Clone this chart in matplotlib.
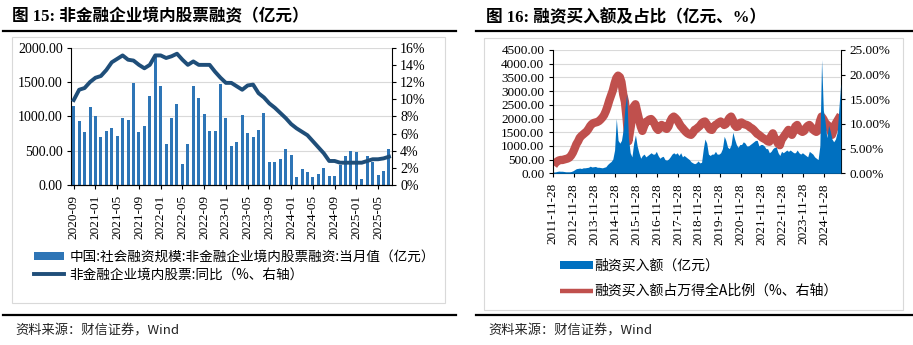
import numpy as np
import pandas as pd
import matplotlib
matplotlib.use('Agg')
import matplotlib.pyplot as plt
import matplotlib.dates as mdates
from matplotlib.patches import Rectangle
from matplotlib.lines import Line2D

plt.rcParams['font.family'] = ['Liberation Serif', 'Noto Sans CJK SC']
plt.rcParams['axes.unicode_minus'] = False
CJK = ['Noto Sans CJK SC', 'DejaVu Sans']
MIX = ['Liberation Serif', 'Noto Sans CJK SC']

# ---- figure 15: 非金融企业境内股票融资, monthly 2020-09 .. 2025-07
months = list(pd.period_range('2020-09', '2025-07', freq='M').strftime('%Y-%m'))
equity_fin = [1155, 932, 777, 1136, 1010, 699, 786, 825, 718, 971,
              951, 1480, 772, 864, 1301, 1870, 1447, 592, 980, 1175,
              301, 592, 1447, 1272, 1029, 786, 786, 1466, 980, 573,
              631, 1015, 762, 704, 796, 1053, 340, 340, 374, 519,
              432, 121, 228, 194, 121, 160, 243, 131, 131, 291,
              427, 500, 476, 83, 427, 340, 146, 208, 520]
equity_yoy = [9.9, 11.1, 11.3, 12.0, 12.5, 12.7, 13.4, 14.3, 14.7, 15.1,
              14.6, 14.5, 14.0, 13.6, 14.0, 15.1, 15.1, 14.8, 15.0, 15.3,
              14.6, 14.0, 14.4, 14.0, 14.0, 14.0, 13.2, 12.5, 11.9, 11.9,
              11.5, 11.1, 11.6, 11.7, 10.7, 10.2, 9.5, 9.0, 8.4, 7.8,
              7.1, 6.6, 6.2, 5.8, 5.1, 4.4, 3.7, 2.8, 2.8, 2.6,
              2.6, 2.6, 2.6, 2.6, 2.8, 3.0, 3.0, 3.1, 3.3]

# ---- figure 16: 融资买入额 and share of A-share turnover, sampled mid-month 2011-12 .. 2025-09
margin_dates = pd.date_range('2011-12-01', '2025-09-01', freq='MS') + pd.Timedelta(days=14)
margin_buy = [50,
              50, 70, 80, 75, 75, 65, 55, 55, 55, 65, 90, 130,
              170, 180, 190, 175, 200, 200, 210, 220, 260, 230, 240, 250,
              220, 220, 210, 200, 220, 240, 320, 380, 430, 520, 850, 2000,
              1200, 1100, 1200, 1600, 2400, 2900, 1300, 750, 600, 1100, 1400, 1000,
              750, 550, 650, 700, 600, 650, 700, 750, 700, 700, 800, 650,
              550, 600, 620, 500, 480, 520, 600, 700, 750, 700, 750, 650,
              750, 600, 650, 600, 550, 500, 420, 380, 350, 380, 450, 380,
              400, 900, 1250, 1100, 700, 650, 700, 700, 800, 700, 700, 750,
              900, 1350, 1200, 950, 900, 1050, 1500, 1250, 1050, 950, 1050, 1050,
              1150, 1100, 1000, 1000, 1050, 1100, 1150, 1200, 1200, 1000, 1050, 1050,
              1000, 900, 900, 750, 800, 900, 950, 950, 750, 650, 800, 750,
              800, 850, 800, 850, 800, 750, 750, 850, 750, 700, 750, 700,
              650, 600, 800, 750, 700, 600, 550, 500, 1000, 4150, 2300, 1900,
              1300, 1750, 1550, 1250, 1150, 1250, 1500, 2400, 3280]
margin_ratio = [1.6,
                2.1, 2.4, 2.6, 2.7, 2.7, 2.8, 2.9, 3.0, 3.2, 3.6, 4.2, 5.0,
                5.9, 6.5, 7.2, 7.6, 7.9, 8.2, 8.5, 9.0, 9.6, 10.0, 10.2, 10.3,
                10.4, 10.6, 10.9, 11.3, 11.8, 12.6, 13.6, 14.8, 15.8, 16.8, 18.2, 19.3,
                19.8, 19.5, 18.5, 16.0, 14.5, 11.0, 6.5, 8.8, 11.0, 13.5, 14.0, 12.5,
                11.0, 9.5, 8.6, 9.6, 10.4, 10.6, 10.9, 11.0, 10.6, 10.0, 9.2, 8.8,
                9.2, 9.8, 9.6, 9.2, 9.0, 9.5, 10.5, 11.2, 11.5, 11.2, 10.8, 10.2,
                9.6, 9.2, 8.8, 8.4, 8.1, 7.9, 7.8, 8.2, 8.8, 9.0, 9.3, 9.6,
                10.1, 10.4, 10.5, 10.0, 9.4, 8.9, 8.8, 9.4, 9.8, 10.0, 10.3, 10.5,
                10.2, 9.8, 10.0, 10.6, 11.2, 11.5, 10.8, 9.8, 9.4, 9.5, 10.2, 10.3,
                10.0, 9.9, 9.8, 9.6, 9.3, 9.1, 8.8, 8.4, 8.0, 7.8, 7.5, 7.2,
                7.0, 6.8, 6.5, 6.4, 7.5, 8.1, 7.2, 6.7, 6.0, 5.7, 6.8, 7.3,
                7.8, 8.3, 8.8, 8.2, 7.8, 8.5, 9.5, 9.8, 9.0, 8.6, 8.4, 8.6,
                9.2, 9.6, 9.8, 9.4, 8.9, 8.6, 8.4, 8.7, 10.5, 11.5, 11.0, 10.3,
                9.9, 9.6, 8.8, 7.8, 8.8, 10.0, 10.6, 11.2, 11.8]

W, H = 913, 345
fig = plt.figure(figsize=(W / 100, H / 100), dpi=100)


def fx(px):
    return px / W


def fy(px):
    return 1 - px / H


def style_spines(ax, left=True, right=False):
    for s in ax.spines.values():
        s.set_color('black')
        s.set_linewidth(0.8)
    ax.spines['top'].set_visible(False)
    ax.spines['left'].set_visible(left)
    ax.spines['right'].set_visible(right)


# ================= left chart =================
ax1 = fig.add_axes([fx(71), fy(185), fx(391.7 - 71), (185 - 47.7) / H])
x = np.arange(len(months))
bars = ax1.bar(x, equity_fin, width=0.55, color='#2E75B6', zorder=2)
ax1.set_xlim(-0.5, len(months) - 0.5)
ax1.set_ylim(0, 2000)
ax1.set_yticks(np.arange(0, 2001, 500))
ax1.yaxis.set_major_formatter(lambda v, p: '%.2f' % v)
ax1.yaxis.grid(True, color='#D9D9D9', lw=0.8)
ax1.set_axisbelow(True)
ax1.set_xticks(x[::4])
ax1.set_xticklabels(months[::4], rotation=90)
ax1.tick_params(axis='both', direction='out', length=3, width=0.8, labelsize=10, pad=3)
ax1.tick_params(axis='x', labelsize=9.5, pad=4)
style_spines(ax1)

ax1b = ax1.twinx()
line, = ax1b.plot(x, equity_yoy, color='#1F4E79', lw=2.8, solid_joinstyle='round', zorder=3)
ax1b.set_ylim(0, 16)
ax1b.set_yticks(np.arange(0, 17, 2))
ax1b.yaxis.set_major_formatter(lambda v, p: '%d%%' % v)
ax1b.tick_params(axis='y', direction='out', length=3, width=0.8, labelsize=10, pad=3)
style_spines(ax1b, left=False, right=True)

fig.legend([bars, line],
           ['中国:社会融资规模:非金融企业境内股票融资:当月值（亿元）',
            '非金融企业境内股票:同比（%、右轴）'],
           loc='upper left', bbox_to_anchor=(fx(34), fy(250)),
           frameon=False, prop={'family': CJK, 'size': 9.8},
           handlelength=2.2, handleheight=0.45, handletextpad=0.4,
           labelspacing=0.25, borderpad=0, borderaxespad=0)

# ================= right chart =================
ax2 = fig.add_axes([fx(552.7), fy(173.3), fx(841 - 552.7), (173.3 - 50) / H])
scale = 4500 / 25
red, = ax2.plot(margin_dates, np.array(margin_ratio) * scale, color='#C0504D',
                lw=6, solid_joinstyle='round', solid_capstyle='butt', zorder=2)
blue = ax2.fill_between(margin_dates, margin_buy, color='#0070C0', lw=0, zorder=3)
ax2.set_xlim(pd.Timestamp('2011-11-28'), pd.Timestamp('2025-09-20'))
ax2.set_ylim(0, 4500)
ax2.set_yticks(np.arange(0, 4501, 500))
ax2.yaxis.set_major_formatter(lambda v, p: '%.2f' % v)
ax2.yaxis.grid(True, color='#D9D9D9', lw=0.8)
ax2.set_axisbelow(True)
xt = pd.date_range('2011-11-28', periods=14, freq=pd.DateOffset(years=1))
ax2.set_xticks(xt)
ax2.xaxis.set_major_formatter(mdates.DateFormatter('%Y-%m-%d'))
ax2.tick_params(axis='x', rotation=90, labelsize=9.5, pad=4)
ax2.tick_params(axis='both', direction='out', length=3, width=0.8)
ax2.tick_params(axis='y', labelsize=9.5, pad=3)
style_spines(ax2)

sec = ax2.secondary_yaxis('right', functions=(lambda v: v / scale, lambda p: p * scale))
sec.set_yticks(np.arange(0, 26, 5))
sec.yaxis.set_major_formatter(lambda v, p: '%.2f%%' % v)
sec.tick_params(direction='out', length=3, width=0.8, labelsize=9.5, pad=3)
sec.spines['right'].set_color('black')
sec.spines['right'].set_linewidth(0.8)

leg2 = fig.legend([blue, red],
                  ['融资买入额（亿元）', '融资买入额占万得全A比例（%、右轴）'],
                  loc='upper left', bbox_to_anchor=(fx(560), fy(259)),
                  frameon=False, prop={'family': CJK, 'size': 10},
                  handlelength=2.4, handleheight=0.45, handletextpad=0.1,
                  labelspacing=0.8, borderpad=0, borderaxespad=0)
for lh in leg2.get_lines():
    lh.set_linewidth(3.2)

# ================= frames, titles, sources =================
for (x0, y0, x1, y1) in [(12, 37, 445, 303), (484, 38, 903, 310)]:
    fig.add_artist(Rectangle((fx(x0), fy(y1)), fx(x1 - x0), (y1 - y0) / H,
                             fill=False, ec='#D9D9D9', lw=0.8))
for (x0, x1) in [(3, 456), (476, 913)]:
    fig.add_artist(Line2D([fx(x0), fx(x1)], [fy(31), fy(31)], color='black', lw=1.6))
    fig.add_artist(Line2D([fx(x0), fx(x1)], [fy(315), fy(315)], color='black', lw=1.6))

fig.text(fx(12), fy(17.5), '图 15: 非金融企业境内股票融资（亿元）', family=MIX,
         fontsize=12, weight='bold', va='center')
fig.text(fx(486), fy(17.5), '图 16: 融资买入额及占比（亿元、%）', family=MIX,
         fontsize=12, weight='bold', va='center')
fig.text(fx(15), fy(331), '资料来源：财信证券，Wind', family=CJK, fontsize=9.5,
         va='center', color='#222222', style='italic')
fig.text(fx(488), fy(331), '资料来源：财信证券，Wind', family=CJK, fontsize=9.5,
         va='center', color='#222222', style='italic')

fig.savefig('out.png', dpi=100)
